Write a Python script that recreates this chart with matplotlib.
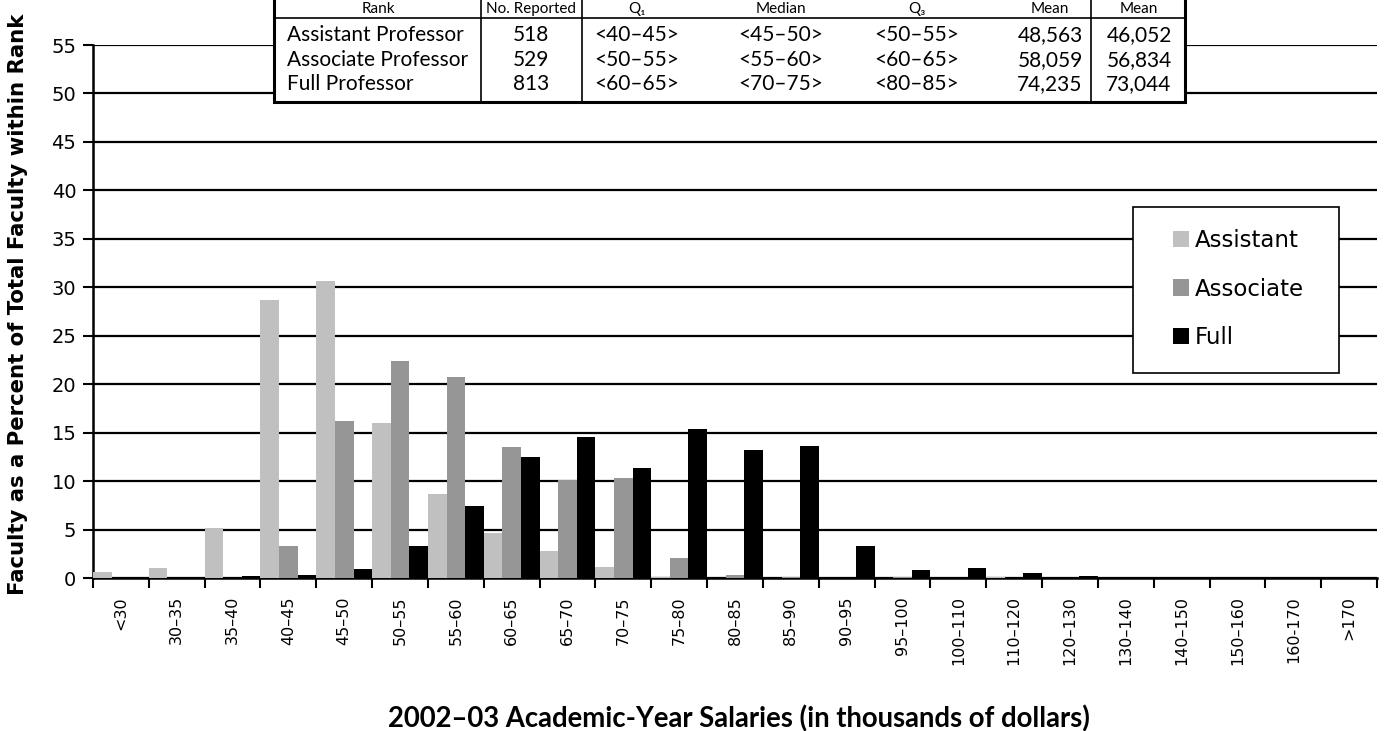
import numpy as np
import matplotlib
matplotlib.use('Agg')
import matplotlib.pyplot as plt
from matplotlib.patches import Rectangle

plt.rcParams['font.family'] = 'DejaVu Sans'

# salary bins (thousands of dollars)
categories = ['<30', '30–35', '35–40', '40–45', '45–50', '50–55', '55–60', '60–65',
              '65–70', '70–75', '75–80', '80–85', '85–90', '90–95', '95–100',
              '100–110', '110–120', '120–130', '130–140', '140–150', '150–160',
              '160-170', '>170']

# percent of faculty within rank
assistant = [0.6, 1.0, 5.2, 28.7, 30.6, 16.0, 8.7, 4.6, 2.8, 1.1, 0.1, 0, 0, 0, 0,
             0, 0.1, 0, 0, 0, 0, 0, 0]
associate = [0, 0, 0, 3.3, 16.2, 22.4, 20.7, 13.5, 10.1, 10.3, 2.1, 0.3, 0.1, 0, 0.1,
             0, 0, 0, 0, 0, 0, 0, 0]
full = [0, 0, 0.2, 0.3, 0.9, 3.3, 7.4, 12.5, 14.6, 11.3, 15.4, 13.2, 13.6, 3.3, 0.8,
        1.0, 0.5, 0.2, 0, 0, 0.05, 0, 0]

# summary table
table_header = ['Rank', 'No. Reported', 'Q₁', 'Median', 'Q₃', 'Mean', 'Mean']
rank_names = ['Assistant Professor', 'Associate Professor', 'Full Professor']
n_reported = ['518', '529', '813']
q1 = ['<40–45>', '<50–55>', '<60–65>']
median = ['<45–50>', '<55–60>', '<70–75>']
q3 = ['<50–55>', '<60–65>', '<80–85>']
mean_a = ['48,563', '58,059', '74,235']
mean_b = ['46,052', '56,834', '73,044']

W, H = 1387, 731
fig = plt.figure(figsize=(W / 100, H / 100), dpi=100)
ax = fig.add_axes([93 / W, 1 - 578 / H, 1284 / W, 533 / H])

x = np.arange(len(categories))
w = 1 / 3
ax.bar(x + w / 2, assistant, width=w, color='#c0c0c0', label='Assistant', zorder=3)
ax.bar(x + 1.5 * w, associate, width=w, color='#969696', label='Associate', zorder=3)
ax.bar(x + 2.5 * w, full, width=w, color='black', label='Full', zorder=3)

ax.set_xlim(0, len(categories))
ax.set_ylim(0, 55)
ax.set_yticks(range(0, 56, 5))
ax.set_axisbelow(True)
ax.yaxis.grid(True, color='black', linewidth=1.6)

ax.set_xticks(np.arange(len(categories) + 1))
ax.set_xticklabels([])
ax.set_xticks(x + 0.5, minor=True)
ax.set_xticklabels(categories, minor=True, rotation=90, va='top', fontsize=11.5)
ax.tick_params(axis='x', which='minor', length=0, pad=13)
ax.tick_params(axis='x', which='major', length=7, width=1.5, direction='out')
ax.tick_params(axis='y', length=7, width=1.5, pad=5, labelsize=14)

for s in ['top', 'right']:
    ax.spines[s].set_visible(False)
ax.spines['left'].set_linewidth(1.8)
ax.spines['bottom'].set_linewidth(1.8)

fig.text(18 / W, 1 - 304 / H, 'Faculty as a Percent of Total Faculty within Rank',
         rotation=90, ha='center', va='center', fontsize=15.3, fontweight='bold')
fig.text(739 / W, 1 - 719 / H, '2002–03 Academic-Year Salaries (in thousands of dollars)',
         ha='center', va='center', fontsize=19.8, fontweight='bold', family='Lato')

# legend box
ax.add_patch(Rectangle((1133 / W, 1 - 373 / H), 206 / W, 166 / H,
                       transform=fig.transFigure, facecolor='white',
                       edgecolor='black', linewidth=1.2, zorder=5, clip_on=False))
leg = ax.legend(loc='center', bbox_to_anchor=(1238 / W, 1 - 289 / H),
                bbox_transform=fig.transFigure, frameon=False, fontsize=16.5,
                handlelength=0.7, handleheight=0.7, handletextpad=0.25,
                labelspacing=1.1)
leg.set_zorder(6)

# table at top
tab = fig.add_axes([272 / W, 1 - 104 / H, 914 / W, 110 / H])
tab.set_xlim(272, 1186)
tab.set_ylim(104, -6)
tab.axis('off')
tab.add_patch(Rectangle((274, -10), 911, 112, facecolor='white', edgecolor='black',
                        linewidth=2.2, clip_on=False))
tab.plot([274, 1185], [18, 18], color='black', linewidth=1.2)
for xd in [481, 582, 1091]:
    tab.plot([xd, xd], [-10, 102], color='black', linewidth=1.2)

col_x = [378, 531, 637, 781, 917, 1050, 1139]
for cx, txt in zip(col_x, table_header):
    tab.text(cx, 13, txt, ha='center', va='baseline', fontsize=11,
             family=['Lato', 'DejaVu Sans'])

columns = [rank_names, n_reported, q1, median, q3, mean_a, mean_b]
row_y = [35, 60, 84]
for j, col in enumerate(columns):
    for i, txt in enumerate(col):
        if j == 0:
            tab.text(287, row_y[i], txt, ha='left', va='center', fontsize=15,
                     family='Lato')
        else:
            tab.text(col_x[j], row_y[i], txt, ha='center', va='center', fontsize=15,
                     family='Lato')

fig.savefig('out.png', dpi=100)
